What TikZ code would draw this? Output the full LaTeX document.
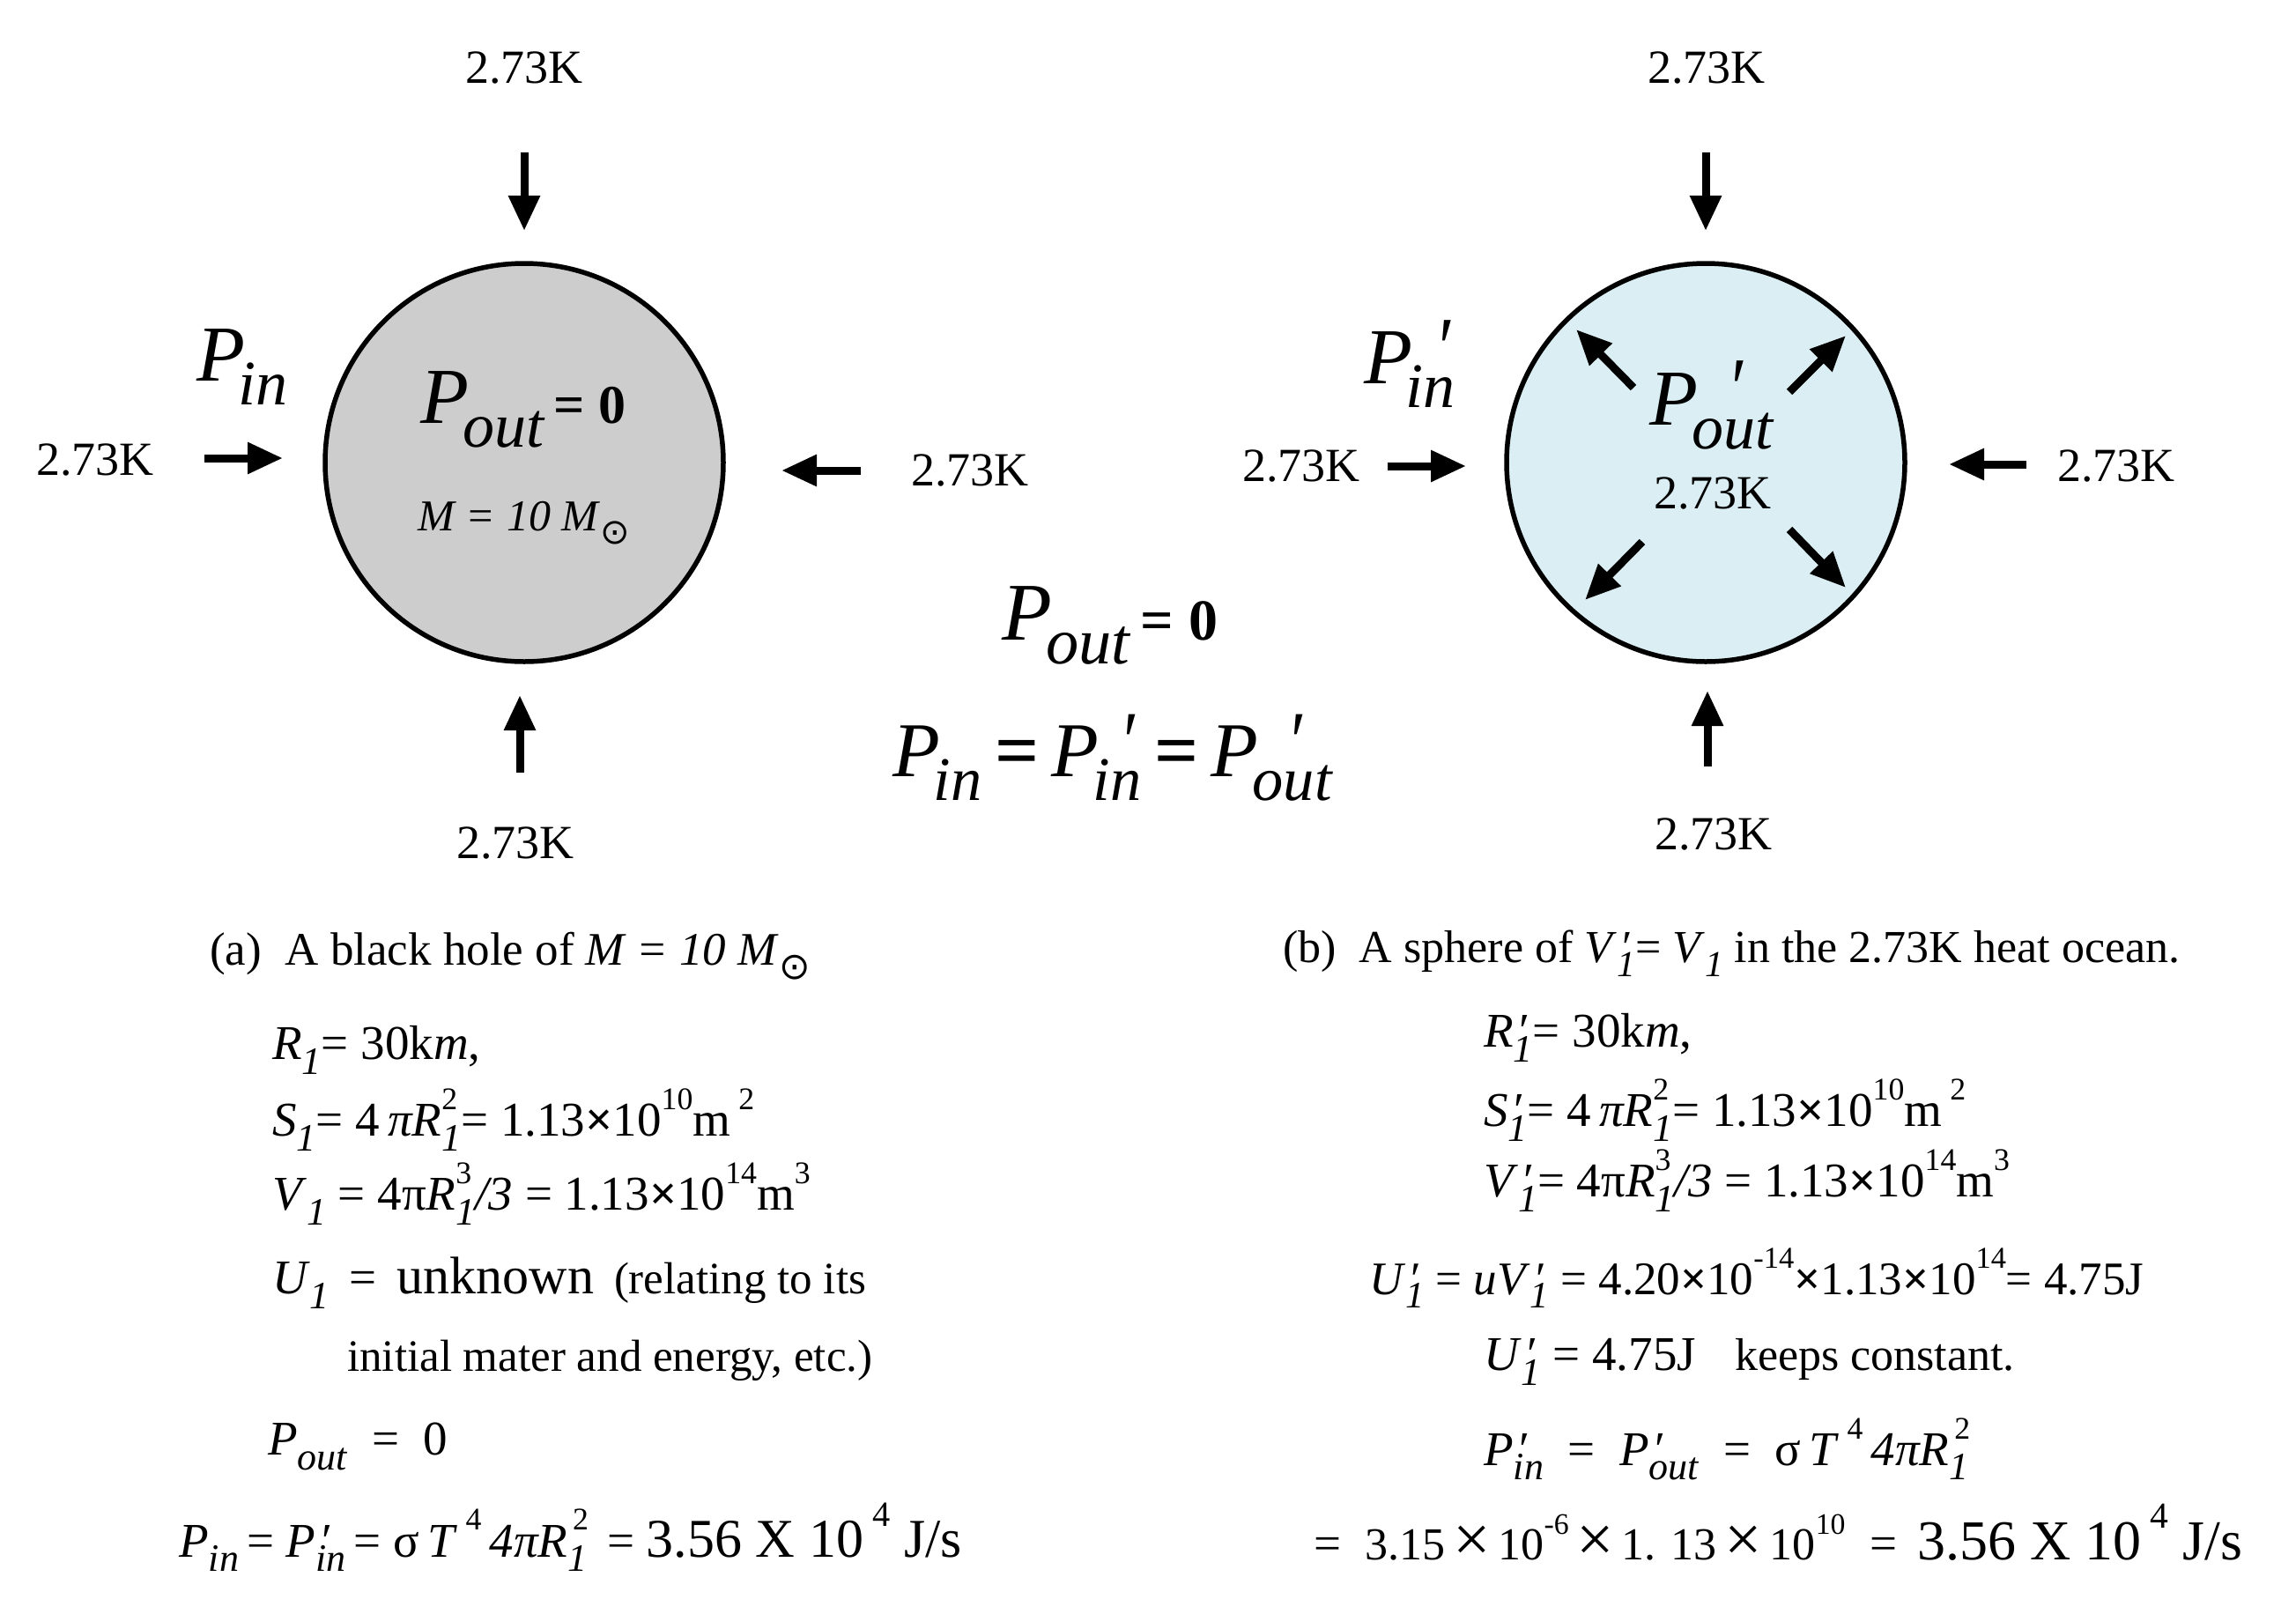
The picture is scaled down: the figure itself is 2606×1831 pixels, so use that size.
\documentclass[tikz,border=0pt]{standalone}
\usepackage{fontspec}
\setmainfont{Liberation Serif}
\newfontfamily\symf{DejaVu Sans}
\usetikzlibrary{arrows.meta}
\definecolor{bhgray}{RGB}{205,205,205}
\definecolor{seablue}{RGB}{218,238,243}
\newcommand\fsz[1]{\fontsize{#1}{#1}\selectfont}
\newcommand\lowr[1]{\raisebox{-0.3em}{\scalebox{0.8}{#1}}}
\newcommand\upr[1]{\raisebox{0.55em}{\scalebox{0.65}{#1}}}
\newcommand\lowup[2]{\rlap{\upr{#2}}\lowr{#1}}
\newcommand\lowpr[1]{\rlap{\hspace{0.12em}′}\lowr{#1}}
\newcommand\bigpr[2]{\rlap{\hspace{#2}\raisebox{0.08em}{\scalebox{0.9}[1.1]{′}}}\lowr{#1}}
\newcommand\bx{\raisebox{-0.05em}{\scalebox{1.45}{×}}}
\begin{document}
\begin{tikzpicture}[x=1pt,y=-1pt,
  ball/.style={circle, draw, line width=5.5pt, minimum size=452pt, inner sep=0pt},
  push/.style={line width=9pt, -{Triangle[length=40pt,width=34pt]}},
  temp/.style={font=\fsz{54}, inner sep=0pt},
  bigP/.style={font=\fsz{90}, inner sep=0pt},
  eqline/.style={anchor=west, font=\fsz{55}, inner sep=0pt}
]
\useasboundingbox (0,0) rectangle (2606,1831);

% ---------- (a) black hole ----------
\node[ball, fill=bhgray] (bh) at (595,525) {};
\coordinate (aTs) at (595,173); \coordinate (aTe) at (595,262);
\coordinate (aBs) at (590,877); \coordinate (aBe) at (590,789);
\coordinate (aLs) at (232,520); \coordinate (aLe) at (321,520);
\coordinate (aRs) at (977,534); \coordinate (aRe) at (887,534);
\draw[push] (aTs) -- (aTe);
\draw[push] (aBs) -- (aBe);
\draw[push] (aLs) -- (aLe);
\draw[push] (aRs) -- (aRe);
\node[temp] (aTt) at (595,77) {2.73K};
\node[temp] (aBt) at (585,957) {2.73K};
\node[temp] (aLt) at (108,522) {2.73K};
\node[temp] (aRt) at (1101,534) {2.73K};
\node[bigP] (aPin) at (275,417) {\textit{P}\hspace{-0.08em}\lowr{\textit{in}}};
\node[inner sep=0pt] (aPout) at (594,465) {\fsz{90}\textit{P}\hspace{-0.08em}\lowr{\textit{out}}\fsz{62}\textbf{\,= 0}};
\node[inner sep=0pt] (aM) at (595,594) {\fsz{50}\textit{M = 10 M}\lowr{\symf ⊙}};

% ---------- (b) sphere ----------
\node[ball, fill=seablue] (sp) at (1936,525) {};
\coordinate (bTs) at (1936,173); \coordinate (bTe) at (1936,262);
\coordinate (bBs) at (1938,870); \coordinate (bBe) at (1938,784);
\coordinate (bLs) at (1575,529); \coordinate (bLe) at (1664,529);
\coordinate (bRs) at (2300,527); \coordinate (bRe) at (2212,527);
\draw[push] (bTs) -- (bTe);
\draw[push] (bBs) -- (bBe);
\draw[push] (bLs) -- (bLe);
\draw[push] (bRs) -- (bRe);
\coordinate (dULs) at (1854,440); \coordinate (dULe) at (1789,374);
\coordinate (dURs) at (2031,445); \coordinate (dURe) at (2095,381);
\coordinate (dLLs) at (1864,615); \coordinate (dLLe) at (1799,681);
\coordinate (dLRs) at (2031,601); \coordinate (dLRe) at (2095,667);
\draw[push] (dULs) -- (dULe);
\draw[push] (dURs) -- (dURe);
\draw[push] (dLLs) -- (dLLe);
\draw[push] (dLRs) -- (dLRe);
\node[temp] (bTt) at (1937,77) {2.73K};
\node[temp] (bBt) at (1945,947) {2.73K};
\node[temp] (bLt) at (1477,529) {2.73K};
\node[temp] (bRt) at (2402,529) {2.73K};
\node[temp] (bCt) at (1944,560) {2.73K};
\node[bigP] (bPin) at (1600,413) {\textit{P}\hspace{-0.08em}\bigpr{\textit{in}}{0.42em}};
\node[bigP] (bPout) at (1943,460) {\textit{P}\hspace{-0.08em}\bigpr{\textit{out}}{0.5em}};

% ---------- centre ----------
\node[inner sep=0pt] (cPout) at (1260,710) {\fsz{93}\textit{P}\hspace{-0.08em}\lowr{\textit{out}}\fsz{66}\textbf{\,= 0}};
\node[inner sep=0pt] (cPin) at (1263,860) {\fsz{88}\textit{P}\hspace{-0.08em}\lowr{\textit{in}}\,\textbf{=}\,\textit{P}\hspace{-0.08em}\bigpr{\textit{in}}{0.4em}\,\textbf{=}\,\textit{P}\hspace{-0.08em}\bigpr{\textit{out}}{0.5em}};

% ---------- text (a) ----------
\node[eqline] (a1) at (238,1085) {\fsz{53}(a)\hspace{0.5em}A black hole of \textit{M = 10 M}\lowr{\symf ⊙}};
\node[eqline] (a2) at (309,1192) {\textit{R}\lowr{\textit{1}}= 30k\textit{m},};
\node[eqline] (a3) at (309,1271) {\textit{S}\lowr{\textit{1}}= 4\,\textit{πR}\lowup{\textit{1}}{2}= 1.13\textbf{×}10\upr{10}m\,\upr{2}};
\node[eqline] (a4) at (309,1355) {\textit{V}\lowr{\textit{1}} = 4π\textit{R}\lowup{\textit{1}}{3}\textit{/3} = 1.13\textbf{×}10\upr{14}m\upr{3}};
\node[eqline] (a5) at (309,1456) {\textit{U}\lowr{\textit{1}}\, = \,{\fsz{60}unknown} \,{\fsz{51}(relating to its}};
\node[eqline] (a6) at (394,1544) {\fsz{51}initial mater and energy, etc.)};
\node[eqline] (a7) at (304,1642) {\textit{P}\lowr{\textit{out}} \ = \ 0};
\node[eqline] (a8) at (203,1745) {\textit{P}\lowr{\textit{in}}\,= \textit{P}\lowpr{\textit{in}}\,= σ\,\textit{T}\,\upr{4}\,\textit{4πR}\lowup{\textit{1}}{\,2} \,= {\fsz{62}3.56 X 10\,\upr{4} J/s}};

% ---------- text (b) ----------
\node[eqline] (b1) at (1456,1082) {\fsz{52}(b)\hspace{0.5em}A sphere of \textit{V}\lowpr{\textit{1}}= \textit{V}\lowr{\textit{1}} in the 2.73K heat ocean.};
\node[eqline] (b2) at (1684,1178) {\textit{R}\lowpr{\textit{1}}= 30k\textit{m},};
\node[eqline] (b3) at (1684,1260) {\textit{S}\lowpr{\textit{1}}= 4\,\textit{πR}\lowup{\textit{1}}{2}= 1.13\textbf{×}10\upr{10}m\,\upr{2}};
\node[eqline] (b4) at (1684,1340) {\textit{V}\lowpr{\textit{1}}= 4π\textit{R}\lowup{\textit{1}}{3}\textit{/3} = 1.13\textbf{×}10\upr{14}m\upr{3}};
\node[eqline] (b5) at (1554,1451) {\fsz{53}\textit{U}\lowpr{\textit{1}} = \textit{uV}\lowpr{\textit{1}} = 4.20\textbf{×}10\upr{-14}\textbf{×}1.13\textbf{×}10\upr{14}= 4.75J};
\node[eqline] (b6) at (1684,1546) {\textit{U}\lowpr{\textit{1}} = 4.75J\hspace{0.8em}{\fsz{52}keeps constant.}};
\node[eqline] (b7) at (1684,1645) {\textit{P}\lowpr{\textit{in}} \ = \ \textit{P}\lowpr{\textit{out}} \ = \ σ\,\textit{T}\,\upr{4}\,\textit{4πR}\lowup{\textit{1}}{\,2}};
\node[eqline] (b8) at (1491,1740) {= \ {\fsz{52}3.15\,\bx\,10\upr{-6}\,\bx\,1. 13\,\bx\,10\upr{10}} \ = \,{\fsz{64}3.56 X 10\,\upr{4} J/s}};
\end{tikzpicture}
\end{document}
